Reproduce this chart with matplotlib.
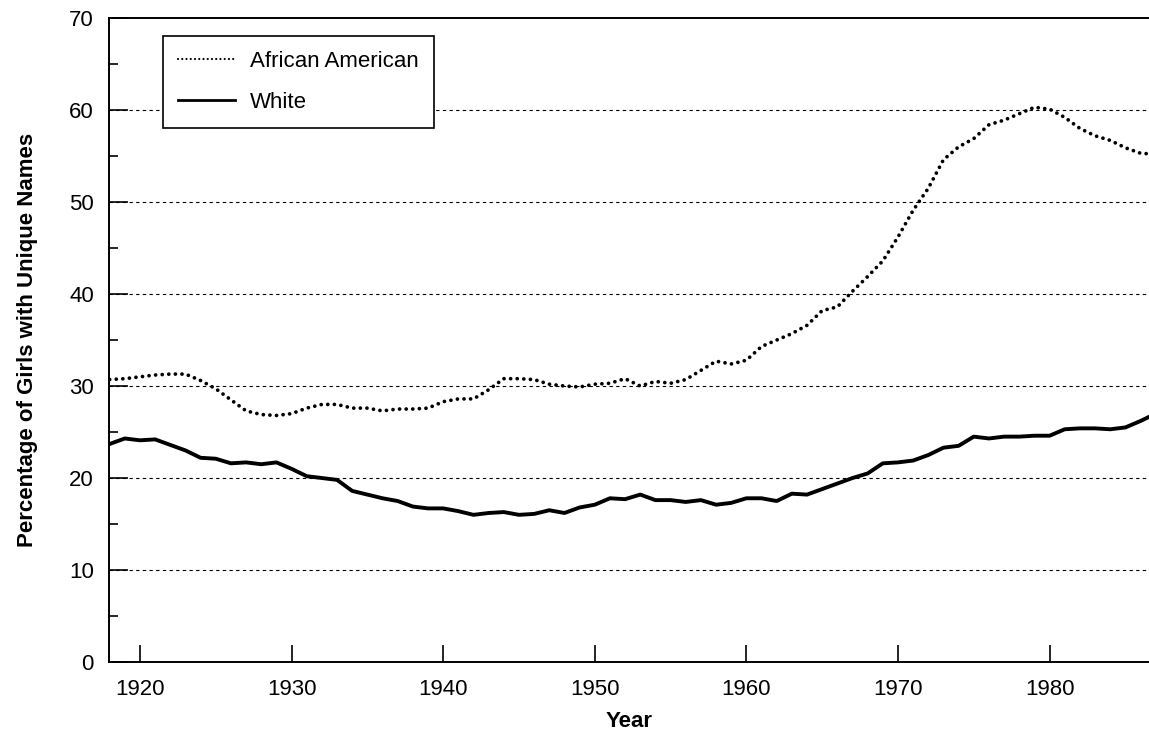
import matplotlib.pyplot as plt
from matplotlib.lines import Line2D
from matplotlib.ticker import MultipleLocator

# Pourcentage de filles avec prénoms uniques, 1918-1987
years = list(range(1918, 1988))

african_american = [
    30.7, 30.8, 31.0, 31.2, 31.3, 31.3, 30.6, 29.7, 28.5, 27.3,   # 1918-1927
    26.9, 26.8, 27.0, 27.6, 28.0, 28.0, 27.6, 27.6, 27.3, 27.5,   # 1928-1937
    27.5, 27.6, 28.3, 28.6, 28.6, 29.6, 30.8, 30.8, 30.7, 30.2,   # 1938-1947
    30.0, 29.9, 30.2, 30.3, 30.8, 30.0, 30.5, 30.3, 30.7, 31.7,   # 1948-1957
    32.7, 32.4, 32.8, 34.3, 35.0, 35.7, 36.6, 38.2, 38.6, 40.3,   # 1958-1967
    41.9, 43.6, 46.2, 49.1, 51.5, 54.6, 56.0, 56.9, 58.4, 58.9,   # 1968-1977
    59.6, 60.3, 60.1, 59.2, 58.0, 57.2, 56.7, 55.9, 55.3, 55.2,   # 1978-1987
]

white = [
    23.7, 24.3, 24.1, 24.2, 23.6, 23.0, 22.2, 22.1, 21.6, 21.7,   # 1918-1927
    21.5, 21.7, 21.0, 20.2, 20.0, 19.8, 18.6, 18.2, 17.8, 17.5,   # 1928-1937
    16.9, 16.7, 16.7, 16.4, 16.0, 16.2, 16.3, 16.0, 16.1, 16.5,   # 1938-1947
    16.2, 16.8, 17.1, 17.8, 17.7, 18.2, 17.6, 17.6, 17.4, 17.6,   # 1948-1957
    17.1, 17.3, 17.8, 17.8, 17.5, 18.3, 18.2, 18.8, 19.4, 20.0,   # 1958-1967
    20.5, 21.6, 21.7, 21.9, 22.5, 23.3, 23.5, 24.5, 24.3, 24.5,   # 1968-1977
    24.5, 24.6, 24.6, 25.3, 25.4, 25.4, 25.3, 25.5, 26.2, 27.0,   # 1978-1987
]

x_ticks = [1920, 1930, 1940, 1950, 1960, 1970, 1980]
y_ticks = [0, 10, 20, 30, 40, 50, 60, 70]


def main():
    plt.rcParams['font.family'] = ['Liberation Sans', 'DejaVu Sans']

    fig = plt.figure(figsize=(11.49, 7.36), dpi=100)
    ax = fig.add_axes([0.0949, 0.1005, 0.905, 0.875])

    ax.plot(years, african_american, color='black', linewidth=2.7,
            linestyle=(0, (0.01, 1.75)), dash_capstyle='round', zorder=3)
    ax.plot(years, white, color='black', linewidth=2.8,
            solid_joinstyle='round', zorder=3)

    ax.set_xlim(1917.96, 1986.55)
    ax.set_ylim(0, 70)
    ax.set_xticks(x_ticks)
    ax.set_yticks(y_ticks)
    ax.yaxis.set_minor_locator(MultipleLocator(5))

    for y in y_ticks[1:-1]:
        ax.axhline(y, color='black', linewidth=0.8, linestyle=(0, (3, 3)),
                   zorder=1)

    ax.tick_params(axis='x', direction='in', length=12, width=1.2,
                   labelsize=16, pad=12)
    ax.tick_params(axis='y', which='major', direction='in', length=14,
                   width=1.2, labelsize=16, pad=11)
    ax.tick_params(axis='y', which='minor', direction='in', length=6.5,
                   width=1.2)

    ax.spines['right'].set_visible(False)
    for s in ['left', 'bottom', 'top']:
        ax.spines[s].set_linewidth(1.4)

    ax.set_xlabel("Year", fontsize=16, fontweight='bold', labelpad=8)
    ax.set_ylabel("Percentage of Girls with Unique Names", fontsize=16,
                  fontweight='bold', labelpad=22)

    handles = [
        Line2D([], [], color='black', linewidth=1.6,
               linestyle=(0, (0.01, 1.9)), dash_capstyle='round'),
        Line2D([], [], color='black', linewidth=2.0),
    ]
    leg = ax.legend(handles, ["African American", "White"],
                    loc='upper left', bbox_to_anchor=(0.0519, 0.972),
                    fontsize=16, fancybox=False, framealpha=1,
                    edgecolor='black', handlelength=2.57, borderpad=0.68,
                    labelspacing=0.9, handletextpad=0.68, borderaxespad=0)
    leg.get_frame().set_linewidth(1.2)

    plt.savefig("out.png", dpi=100)


if __name__ == "__main__":
    main()
